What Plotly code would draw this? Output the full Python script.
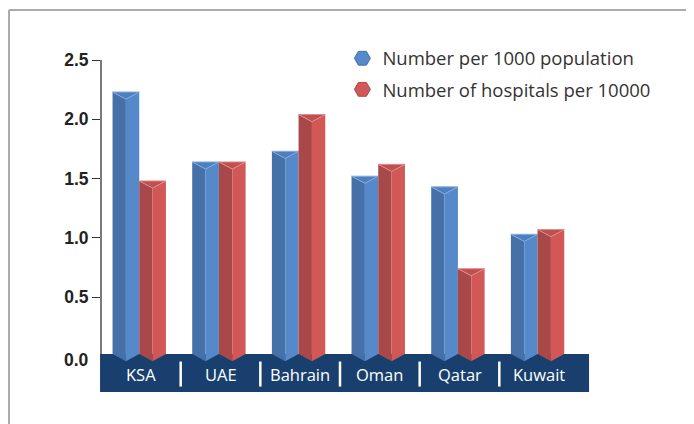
import plotly.graph_objects as go

# data
countries = ["KSA", "UAE", "Bahrain", "Oman", "Qatar", "Kuwait"]
per_1000_population = [2.23, 1.64, 1.73, 1.52, 1.43, 1.03]
hospitals_per_10000 = [1.48, 1.64, 2.04, 1.62, 0.74, 1.07]
y_ticks = [0, 0.5, 1.0, 1.5, 2.0, 2.5]

series = [
    ("Number per 1000 population", per_1000_population,
     dict(left="#4671a8", right="#5589c9", top="#4e7fbe", edge="#86a9dc")),
    ("Number of hospitals per 10000", hospitals_per_10000,
     dict(left="#a84848", right="#d25858", top="#bf5050", edge="#e08a8a")),
]

bar_w = 0.335      # one bar in category units
shift = -0.02      # whole group sits a touch left of the category centre
depth = 0.06       # drop of the front ridge (fake 3d)
base = 0.02        # bars start at the top edge of the navy band

fig = go.Figure()


def prism_faces(values, x_left):
    left_x, left_y, right_x, right_y, top_x, top_y = [], [], [], [], [], []
    for i, v in enumerate(values):
        xl = i + x_left
        xc = xl + bar_w / 2
        xr = xl + bar_w
        left_x += [xl, xc, xc, xl, xl, None]
        left_y += [base, base - depth, v - depth, v, base, None]
        right_x += [xc, xr, xr, xc, xc, None]
        right_y += [base - depth, base, v, v - depth, base - depth, None]
        top_x += [xl, xr, xc, xl, None]
        top_y += [v, v, v - depth, v, None]
    return (left_x, left_y), (right_x, right_y), (top_x, top_y)


for k, (name, values, col) in enumerate(series):
    x_left = shift - bar_w + k * bar_w
    (lx, ly), (rx, ry), (tx, ty) = prism_faces(values, x_left)
    fig.add_trace(go.Scatter(x=lx, y=ly, fill="toself", fillcolor=col["left"], mode="lines",
                             line=dict(width=0), showlegend=False, hoverinfo="skip"))
    fig.add_trace(go.Scatter(x=rx, y=ry, fill="toself", fillcolor=col["right"], mode="lines",
                             line=dict(width=0), showlegend=False, hoverinfo="skip"))
    fig.add_trace(go.Scatter(x=tx, y=ty, fill="toself", fillcolor=col["top"], mode="lines",
                             line=dict(width=1, color=col["edge"]), showlegend=False, hoverinfo="skip"))
    # legend entry only
    fig.add_trace(go.Scatter(x=[None], y=[None], mode="markers", name=name, legendgroup=name,
                             marker=dict(symbol="hexagon2", size=22, color=col["right"],
                                         line=dict(width=1, color=col["left"]))))

# the page puts the figure 8px in from the window corner, margins allow for that
shapes = [
    # navy band holding the country names
    dict(type="rect", xref="paper", yref="y", x0=-0.002, x1=1.021, y0=-0.3, y1=base,
         fillcolor="#183f6d", line=dict(width=0), layer="below"),
    # y axis line, stopping at the band
    dict(type="line", xref="paper", yref="y", x0=0, x1=0, y0=base, y1=y_ticks[-1],
         line=dict(color="#333333", width=1.3)),
    # grey frame round the chart (top and left sides only)
    dict(type="line", xref="paper", yref="paper", x0=-0.1925, x1=1.3, y0=1.1506, y1=1.1506,
         line=dict(color="#ababab", width=2)),
    dict(type="line", xref="paper", yref="paper", x0=-0.1925, x1=-0.1925, y0=1.1506, y1=-0.2,
         line=dict(color="#ababab", width=2)),
]
for i in range(len(countries) - 1):
    shapes.append(dict(type="line", xref="x", yref="y", x0=i + 0.5, x1=i + 0.5, y0=-0.043, y1=-0.254,
                       line=dict(color="white", width=2.5), layer="below"))

annotations = [
    dict(x=i, y=-0.15, xref="x", yref="y", text=c, showarrow=False,
         font=dict(family="Open Sans", size=16.5, color="white"))
    for i, c in enumerate(countries)
]
# the zero label has no tick mark in the original (it is hidden by the band)
annotations.append(dict(x=0, y=y_ticks[0], xref="paper", yref="y", text=f"{y_ticks[0]:.1f}",
                        showarrow=False, xanchor="right", yanchor="middle", xshift=-10, yshift=-4,
                        font=dict(family="Liberation Sans", size=17.5, color="#222222", weight="bold")))

fig.update_layout(
    width=694,
    height=424,
    margin=dict(l=93, r=123, t=52, b=40),
    paper_bgcolor="white",
    plot_bgcolor="white",
    shapes=shapes,
    annotations=annotations,
    showlegend=True,
    legend=dict(x=0.505, y=1.061, xanchor="left", yanchor="top", tracegroupgap=4,
                font=dict(family="Open Sans", size=18.5, color="#333333"), bgcolor="rgba(0,0,0,0)"),
    xaxis=dict(range=[-0.5, 5.5], showgrid=False, zeroline=False, showticklabels=False,
               showline=False, fixedrange=True),
    yaxis=dict(range=[-0.3, 2.5], showgrid=False, zeroline=False, showline=False,
               tickvals=y_ticks[1:], tickformat=".1f",
               ticks="outside", ticklen=8, tickcolor="#333333", tickwidth=1.3,
               tickfont=dict(family="Liberation Sans", size=17.5, color="#222222", weight="bold"),
               fixedrange=True),
)

fig.write_html("out.html")
